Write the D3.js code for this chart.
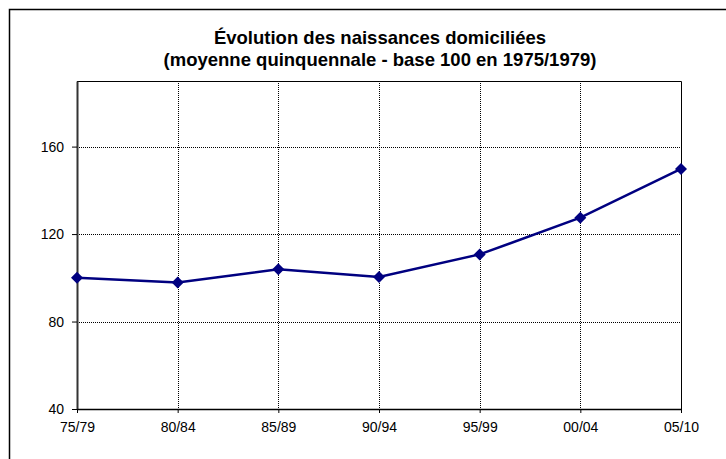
<!DOCTYPE html>
<html>
<head>
<meta charset="utf-8">
<script src="https://cdn.jsdelivr.net/npm/d3@7"></script>
<style>
  body { margin: 0; background: #fff; }
  svg { font-family: "Liberation Sans", Arial, sans-serif; }
</style>
</head>
<body>
<div id="chart"></div>
<script>
var periods = ["75/79", "80/84", "85/89", "90/94", "95/99", "00/04", "05/10"];
var naissances = [100, 97.9, 103.9, 100.4, 110.7, 127.5, 149.8];
var yTicks = [40, 80, 120, 160];
var titleLines = ["Évolution des naissances domiciliées", "(moyenne quinquennale - base 100 en 1975/1979)"];

var svg = d3.select("#chart").append("svg")
  .attr("width", 726)
  .attr("height", 459);

// cadre extérieur (coupé à droite et en bas)
svg.append("rect")
  .attr("x", 9.5).attr("y", 9.5)
  .attr("width", 740).attr("height", 470)
  .attr("fill", "none").attr("stroke", "#000").attr("stroke-width", 1.5);

var plotLeft = 77, plotRight = 681, plotTop = 81, plotBottom = 409;
var width = plotRight - plotLeft, height = plotBottom - plotTop;

var x = d3.scalePoint().domain(periods).range([0, width]);
var y = d3.scaleLinear().domain([40, 190]).range([height, 0]);

svg.selectAll(".title")
  .data(titleLines)
  .enter().append("text")
  .attr("x", 380)
  .attr("y", function (d, i) { return 44 + i * 22; })
  .attr("text-anchor", "middle")
  .attr("font-size", "18.5px")
  .attr("font-weight", "bold")
  .text(function (d) { return d; });

var g = svg.append("g").attr("transform", "translate(" + plotLeft + "," + plotTop + ")");

// grille
g.selectAll(".hgrid")
  .data(yTicks.slice(1))
  .enter().append("line")
  .attr("x1", 0).attr("x2", width)
  .attr("y1", function (d) { return Math.round(y(d)) + 0.5; })
  .attr("y2", function (d) { return Math.round(y(d)) + 0.5; })
  .attr("stroke", "#000").attr("stroke-dasharray", "1,1");

g.selectAll(".vgrid")
  .data(periods.slice(1, -1))
  .enter().append("line")
  .attr("x1", function (d) { return Math.round(x(d)) + 0.5; })
  .attr("x2", function (d) { return Math.round(x(d)) + 0.5; })
  .attr("y1", 0).attr("y2", height)
  .attr("stroke", "#000").attr("stroke-dasharray", "1,1");

// bord haut et droit
g.append("path")
  .attr("d", "M0,0.5H" + (width + 0.5) + "V" + height)
  .attr("fill", "none").attr("stroke", "#000");

// axes
var yAxis = g.append("g")
  .attr("font-size", 14)
  .call(d3.axisLeft(y).tickValues(yTicks).tickSize(5).tickPadding(8).tickSizeOuter(0));
yAxis.attr("font-size", 14).attr("font-family", null);
yAxis.select(".domain").attr("stroke", "#333").attr("stroke-width", 2);
yAxis.selectAll("text").attr("fill", "#000");

var xAxis = g.append("g")
  .attr("transform", "translate(0," + height + ")")
  .call(d3.axisBottom(x).tickSize(4).tickPadding(9).tickSizeOuter(0));
xAxis.attr("font-size", 14).attr("font-family", null);
xAxis.select(".domain").attr("stroke-width", 1.5);
xAxis.selectAll("text").attr("fill", "#000");

// courbe
var line = d3.line()
  .x(function (d, i) { return x(periods[i]); })
  .y(function (d) { return y(d); });

g.append("path")
  .datum(naissances)
  .attr("d", line)
  .attr("fill", "none")
  .attr("stroke", "#000080")
  .attr("stroke-width", 2.5);

g.selectAll(".pt")
  .data(naissances)
  .enter().append("path")
  .attr("class", "pt")
  .attr("transform", function (d, i) { return "translate(" + x(periods[i]) + "," + y(d) + ") rotate(45)"; })
  .attr("d", d3.symbol().type(d3.symbolSquare).size(72))
  .attr("fill", "#000080");
</script>
</body>
</html>
